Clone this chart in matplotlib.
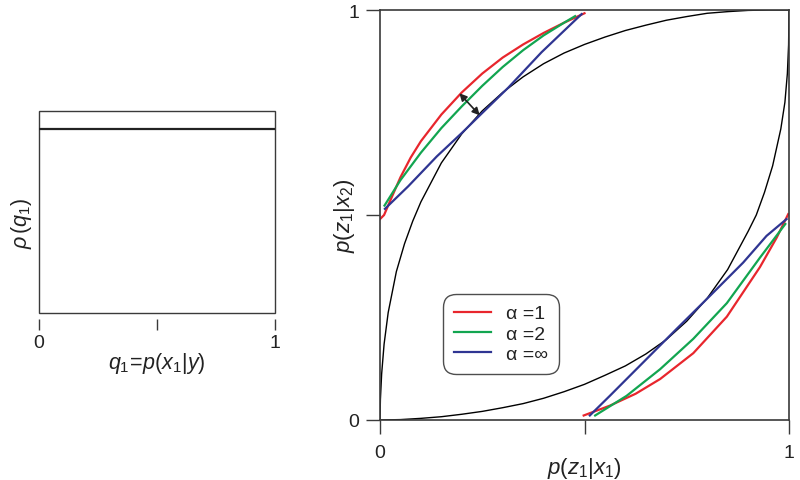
import matplotlib
matplotlib.use("Agg")
import matplotlib.pyplot as plt
from matplotlib.patches import Rectangle

plt.rcParams['font.family'] = ['Liberation Sans', 'DejaVu Sans']
plt.rcParams['mathtext.fontset'] = 'custom'
plt.rcParams['mathtext.rm'] = 'Liberation Sans'
plt.rcParams['mathtext.it'] = 'Liberation Sans:italic'
plt.rcParams['mathtext.bf'] = 'Liberation Sans:bold'

# ---------------- data ----------------
prior_x = [0.0, 1.0]
prior_y = [1.0, 1.0]

upper_black_x = [0.0, 0.001, 0.004, 0.01, 0.02, 0.04, 0.06, 0.08, 0.10, 0.15, 0.20, 0.25,
                 0.30, 0.35, 0.40, 0.45, 0.50, 0.55, 0.60, 0.65, 0.70, 0.75, 0.80, 0.85,
                 0.90, 0.95, 1.0]
upper_black_y = [0.0, 0.05, 0.112, 0.185, 0.262, 0.362, 0.43, 0.485, 0.532, 0.627, 0.698,
                 0.754, 0.799, 0.837, 0.869, 0.895, 0.916, 0.934, 0.950, 0.963, 0.975,
                 0.984, 0.992, 0.996, 0.999, 1.0, 1.0]

lower_black_x = [0.0, 0.05, 0.10, 0.15, 0.20, 0.25, 0.30, 0.35, 0.40, 0.45, 0.50, 0.55,
                 0.60, 0.65, 0.70, 0.75, 0.80, 0.85, 0.90, 0.92, 0.94, 0.96, 0.98, 0.99,
                 0.996, 0.999, 1.0]
lower_black_y = [0.0, 0.001, 0.004, 0.008, 0.014, 0.021, 0.03, 0.04, 0.053, 0.069, 0.087,
                 0.109, 0.132, 0.161, 0.196, 0.241, 0.297, 0.367, 0.46, 0.50, 0.555, 0.62,
                 0.71, 0.775, 0.845, 0.915, 1.0]

red_up_x = [0.0, 0.01, 0.025, 0.05, 0.075, 0.10, 0.15, 0.20, 0.25, 0.30, 0.35, 0.40, 0.45, 0.50]
red_up_y = [0.49, 0.50, 0.535, 0.592, 0.640, 0.680, 0.745, 0.799, 0.845, 0.884, 0.916,
            0.944, 0.969, 0.992]
green_up_x = [0.011, 0.05, 0.10, 0.15, 0.20, 0.25, 0.30, 0.35, 0.40, 0.45, 0.477]
green_up_y = [0.523, 0.585, 0.652, 0.712, 0.765, 0.815, 0.861, 0.902, 0.938, 0.969, 0.985]
blue_up_x = [0.012, 0.069, 0.139, 0.2, 0.244, 0.314, 0.395, 0.477, 0.493]
blue_up_y = [0.515, 0.57, 0.643, 0.70, 0.743, 0.811, 0.897, 0.975, 0.99]

red_lo_x = [0.498, 0.562, 0.625, 0.685, 0.766, 0.848, 0.929, 0.97, 0.998]
red_lo_y = [0.011, 0.035, 0.064, 0.1, 0.163, 0.252, 0.373, 0.445, 0.502]
green_lo_x = [0.526, 0.603, 0.685, 0.766, 0.848, 0.929, 0.991]
green_lo_y = [0.011, 0.059, 0.124, 0.198, 0.285, 0.396, 0.478]
blue_lo_x = [0.513, 0.562, 0.644, 0.725, 0.807, 0.888, 0.945, 0.994]
blue_lo_y = [0.011, 0.059, 0.141, 0.222, 0.303, 0.384, 0.449, 0.49]

legend_labels = ["α =1", "α =2", "α =∞"]
arrow_start = (0.194, 0.797)
arrow_end = (0.244, 0.743)

tick_vals = [0, 0.5, 1]
tick_labels = ["0", "", "1"]

RED = "#e8262d"
GREEN = "#12a550"
BLUE = "#2f3592"
SPINE = "#3a3a3a"
TXT = "#222222"

fig = plt.figure(figsize=(8.0, 4.81), dpi=100)

# ---------------- left panel ----------------
axL = fig.add_axes([39/800, (481-314)/481, 236/800, 202/481])
axL.plot(prior_x, prior_y, color=TXT, lw=1.6, solid_capstyle='butt')
axL.set_xlim(0, 1)
axL.set_ylim(0, 1.1)
for s in axL.spines.values():
    s.set_visible(False)
axL.spines['bottom'].set_position(('outward', 4))
axL.add_patch(Rectangle((0, 0), 1, 1, transform=axL.transAxes, fill=False,
                        edgecolor=SPINE, lw=1.0, clip_on=False))
axL.set_xticks(tick_vals)
axL.set_xticklabels(tick_labels)
axL.set_yticks([])
axL.tick_params(axis='x', direction='out', length=8, width=1.0, color=SPINE,
                labelsize=14, pad=3, labelcolor=TXT)
axL.set_xlabel(r"$q_1\!=\!p(x_1|y)$", fontsize=15.5, color=TXT)
axL.xaxis.set_label_coords(0.5, -0.185)
axL.set_ylabel(r"$\rho\,(q_1)$", fontsize=15.5, color=TXT)
axL.yaxis.set_label_coords(-0.02, 0.45)

# ---------------- right panel ----------------
axR = fig.add_axes([380/800, (481-421)/481, 409/800, 410/481])
axR.plot(upper_black_x, upper_black_y, color="black", lw=1.0)
axR.plot(lower_black_x, lower_black_y, color="black", lw=1.0)

hr, = axR.plot(red_up_x, red_up_y, color=RED, lw=1.6)
hg, = axR.plot(green_up_x, green_up_y, color=GREEN, lw=1.6)
hb, = axR.plot(blue_up_x, blue_up_y, color=BLUE, lw=1.6)
axR.plot(red_lo_x, red_lo_y, color=RED, lw=1.6)
axR.plot(green_lo_x, green_lo_y, color=GREEN, lw=1.6)
axR.plot(blue_lo_x, blue_lo_y, color=BLUE, lw=1.6)

axR.annotate("", xy=arrow_end, xytext=arrow_start,
             arrowprops=dict(arrowstyle='<|-|>', color=TXT, lw=1.2,
                             mutation_scale=11, shrinkA=0, shrinkB=0))

axR.set_xlim(0, 1)
axR.set_ylim(0, 1)
for s in axR.spines.values():
    s.set_color(SPINE)
    s.set_linewidth(1.2)
axR.set_xticks(tick_vals)
axR.set_xticklabels(tick_labels)
axR.set_yticks(tick_vals)
axR.set_yticklabels(tick_labels)
axR.tick_params(axis='x', direction='out', length=10, width=1.0, color=SPINE,
                labelsize=14, pad=7, labelcolor=TXT)
axR.tick_params(axis='y', direction='out', length=10, width=1.0, color=SPINE,
                labelsize=14, pad=5, labelcolor=TXT)
axR.set_xlabel(r"$p(z_1|x_1)$", fontsize=16, color=TXT)
axR.xaxis.set_label_coords(0.5, -0.085)
axR.set_ylabel(r"$p(z_1|x_2)$", fontsize=16, color=TXT)
axR.yaxis.set_label_coords(-0.056, 0.5)

leg = axR.legend([hr, hg, hb], legend_labels, loc='upper left',
                 bbox_to_anchor=((443-380)/409, (421-295)/410), borderaxespad=0,
                 fontsize=14, frameon=True, fancybox=True, handlelength=1.9,
                 handletextpad=0.8, labelspacing=0.14, borderpad=0.55)
fr = leg.get_frame()
fr.set_edgecolor(TXT)
fr.set_linewidth(1.0)
fr.set_boxstyle('round,pad=0,rounding_size=0.65')
for t in leg.get_texts():
    t.set_color(TXT)

fig.savefig("out.png", dpi=100)
